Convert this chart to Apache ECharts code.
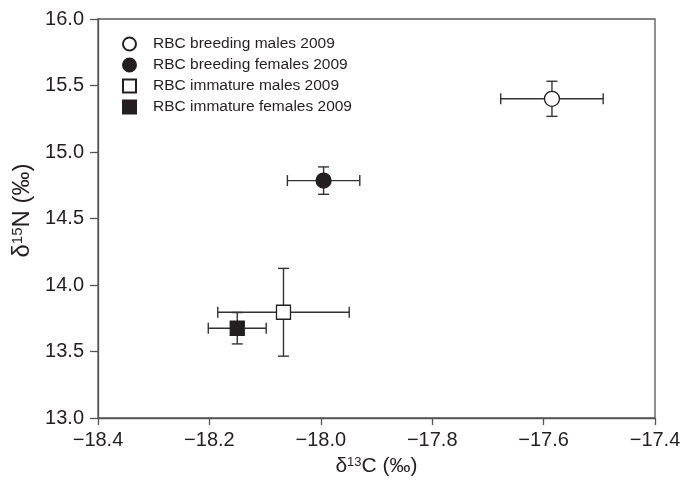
<!DOCTYPE html>
<html><head><meta charset="utf-8">
<script src="https://cdn.jsdelivr.net/npm/echarts@6/dist/echarts.min.js"></script>
<style>html,body{margin:0;padding:0;background:#fff}#c{width:684px;height:482px}</style>
</head><body><div id="c"></div>
<script>
const seriesNames = ['RBC breeding males 2009','RBC breeding females 2009','RBC immature males 2009','RBC immature females 2009'];
const d13C = [-17.585, -17.995, -18.067, -18.150];
const d15N = [15.400, 14.785, 13.795, 13.675];
const d13CErr = [0.092, 0.065, 0.118, 0.052];
const d15NErr = [0.132, 0.103, 0.330, 0.118];
const symbols = ['circle','circle','rect','rect'];
const filled = [false,true,false,true];

const FONT = 'Liberation Sans, Arial, Helvetica, sans-serif';
const INK = '#231f20';
const minus = v => (v < 0 ? '\u2212' : '') + Math.abs(v).toFixed(1);

const errRows = d13C.map((x,i)=>[x, d15N[i], d13CErr[i], d15NErr[i]]);

const scatterSeries = seriesNames.map((n,i)=>({
  name: n, type: 'scatter', z: 5,
  data: [[d13C[i], d15N[i]]],
  symbol: symbols[i],
  symbolSize: symbols[i]==='circle' ? 15 : 14,
  itemStyle: {color: filled[i] ? INK : '#ffffff', borderColor: INK, borderWidth: 1.3, opacity: 1},
  emphasis: {disabled: true}
}));

const errSeries = {
  type: 'custom', z: 2, silent: true,
  data: errRows,
  encode: {x: 0, y: 1},
  renderItem: (params, api) => {
    const x = api.value(0), y = api.value(1), ex = api.value(2), ey = api.value(3);
    const l = api.coord([x-ex, y]), r = api.coord([x+ex, y]);
    const t = api.coord([x, y+ey]), b = api.coord([x, y-ey]);
    const cap = 5.5;
    const style = {stroke: '#333333', lineWidth: 1.4, fill: null};
    const ln = (x1,y1,x2,y2)=>({type:'line', shape:{x1,y1,x2,y2}, style});
    return {type:'group', children:[
      ln(l[0],l[1],r[0],r[1]),
      ln(l[0],l[1]-cap,l[0],l[1]+cap),
      ln(r[0],r[1]-cap,r[0],r[1]+cap),
      ln(t[0],t[1],b[0],b[1]),
      ln(t[0]-cap,t[1],t[0]+cap,t[1]),
      ln(b[0]-cap,b[1],b[0]+cap,b[1])
    ]};
  }
};

const chart = echarts.init(document.getElementById('c'), null, {renderer: 'canvas'});
chart.setOption({
  animation: false,
  backgroundColor: '#ffffff',
  textStyle: {fontFamily: FONT},
  grid: {left: 98, right: 29, top: 19, bottom: 60, show: true, borderColor: '#555555', borderWidth: 1.3, backgroundColor: 'transparent'},
  legend: {
    orient: 'vertical', left: 117, top: 31,
    itemWidth: 13, itemHeight: 13, itemGap: 5,
    data: seriesNames,
    textStyle: {fontFamily: FONT, fontSize: 15.5, color: INK, padding: [0,0,0,12]},
    selectedMode: false
  },
  xAxis: {
    type: 'value', min: -18.4, max: -17.4, interval: 0.2,
    name: '{n|\u03b4}{s|13}{n|C (\u2030)}', nameLocation: 'middle', nameGap: 38,
    nameTextStyle: {rich: {
      n: {fontFamily: FONT, fontSize: 21, color: INK},
      s: {fontFamily: FONT, fontSize: 13, color: INK, verticalAlign: 'top'}
    }},
    axisLine: {show: true, lineStyle: {color: '#555555', width: 1.3}},
    axisTick: {show: true, inside: false, length: 7, lineStyle: {color: '#555555', width: 1.3}},
    axisLabel: {fontFamily: FONT, fontSize: 20, color: INK, margin: 12, formatter: minus},
    splitLine: {show: false}
  },
  yAxis: {
    type: 'value', min: 13.0, max: 16.0, interval: 0.5,
    name: '{n|\u03b4}{s|15}{n|N (\u2030)}', nameLocation: 'middle', nameGap: 64, nameRotate: 90,
    nameTextStyle: {padding: [0,0,0,16], rich: {
      n: {fontFamily: FONT, fontSize: 24, color: INK},
      s: {fontFamily: FONT, fontSize: 15, color: INK, verticalAlign: 'top'}
    }},
    axisLine: {show: true, lineStyle: {color: '#555555', width: 1.3}},
    axisTick: {show: true, inside: false, length: 8, lineStyle: {color: '#555555', width: 1.3}},
    axisLabel: {fontFamily: FONT, fontSize: 20, color: INK, margin: 14, formatter: v => v.toFixed(1)},
    splitLine: {show: false}
  },
  series: [errSeries].concat(scatterSeries)
});
</script>
</body></html>
